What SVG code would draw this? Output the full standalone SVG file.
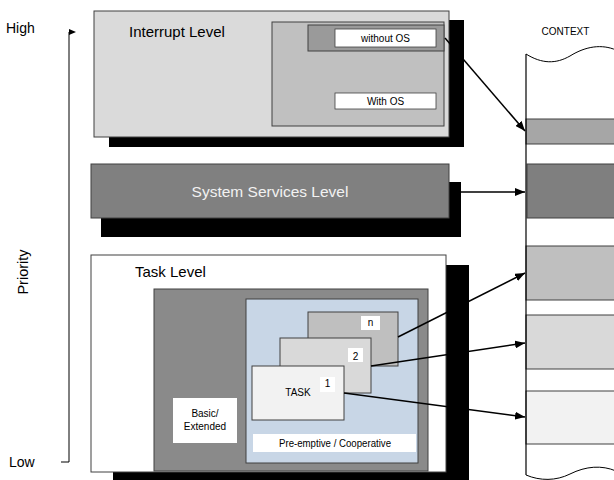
<svg xmlns="http://www.w3.org/2000/svg" width="614" height="480" viewBox="0 0 614 480">
<style>
text{font-family:"Liberation Sans",Arial,sans-serif;fill:#000}
.b{stroke:#404040;stroke-width:1}
.sh{fill:#000}
.wb{fill:#fff;stroke:#404040;stroke-width:0.8}
.c{text-anchor:middle}
.conn{stroke:#000;stroke-width:1.5;fill:none;marker-end:url(#ah)}
.band{stroke:#404040;stroke-width:1}
</style>
<defs>
<marker id="ah" viewBox="0 0 10 8" refX="10" refY="4" markerWidth="10" markerHeight="8" markerUnits="userSpaceOnUse" orient="auto">
<path d="M0,0 L10,4 L0,8 z" fill="#000"/>
</marker>
</defs>
<rect width="614" height="480" fill="#fff"/>

<g id="priority-axis">
<text x="6" y="33" font-size="14">High</text>
<text x="9" y="467" font-size="14">Low</text>
<text transform="translate(28,272) rotate(-90)" font-size="14.5" class="c">Priority</text>
<path d="M69,462 V32" fill="none" stroke="#000" stroke-width="1"/>
<path d="M69,29 L76,32 L69,35 z" fill="#000"/>
<path d="M61,462 H69" stroke="#000" stroke-width="1"/>
</g>

<g id="interrupt-level">
<rect class="sh" x="109" y="20" width="355" height="127"/>
<rect class="b" x="94" y="11" width="355" height="126" fill="#dadada"/>
<text x="129" y="37" font-size="15">Interrupt Level</text>
<rect class="b" x="272" y="22" width="172" height="104" fill="#c0c0c0"/>
<rect class="b" x="308" y="25" width="136" height="26" fill="#9a9a9a"/>
<rect class="wb" x="335" y="29" width="101" height="18"/>
<text x="385.5" y="42" font-size="10" class="c">without OS</text>
<rect class="wb" x="335" y="93" width="101" height="16"/>
<text x="385.5" y="105" font-size="10" class="c">With OS</text>
</g>

<g id="system-services-level">
<rect class="sh" x="101" y="182" width="360" height="55"/>
<rect class="b" x="91" y="164" width="358" height="54" fill="#808080"/>
<text x="270" y="197" font-size="15.5" class="c" style="fill:#f2f2f2">System Services Level</text>
</g>

<g id="task-level">
<rect class="sh" x="113" y="265" width="356" height="220"/>
<rect class="b" x="91" y="255" width="355" height="217" fill="#fff"/>
<text x="135" y="277" font-size="15">Task Level</text>
<rect class="b" x="154" y="289" width="274" height="182" fill="#8a8a8a"/>
<rect x="173" y="398" width="64" height="45" fill="#fff"/>
<text x="205" y="417" font-size="10" class="c">Basic/</text>
<text x="205" y="430" font-size="10" class="c">Extended</text>
<rect class="b" x="246" y="299" width="172" height="164" fill="#c8d6e6"/>
<rect x="253" y="434" width="163" height="18" fill="#fff"/>
<text x="335" y="447" font-size="10" class="c" textLength="112" lengthAdjust="spacingAndGlyphs">Pre-emptive / Cooperative</text>
</g>

<g id="task-n">
<rect class="b" x="308" y="312" width="90" height="54" fill="#bfbfbf"/>
<rect x="361" y="316" width="19" height="14" fill="#fff"/>
<text x="370.5" y="326" font-size="10" class="c">n</text>
</g>
<g id="task-2">
<rect class="b" x="280" y="338" width="91" height="55" fill="#d9d9d9"/>
<rect x="348" y="348" width="15" height="14" fill="#fff"/>
<text x="355.5" y="360" font-size="10" class="c">2</text>
</g>
<g id="task-1">
<rect class="b" x="252" y="366" width="92" height="54" fill="#f2f2f2"/>
<rect x="320" y="377" width="15" height="15" fill="#fff"/>
<text x="327.5" y="387" font-size="10" class="c">1</text>
<text x="298" y="396" font-size="10" class="c">TASK</text>
</g>

<g id="context">
<text x="565.5" y="35" font-size="10" class="c">CONTEXT</text>
<rect class="band" x="526" y="119" width="95" height="25" fill="#a6a6a6"/>
<rect class="band" x="527" y="164" width="95" height="54" fill="#7f7f7f"/>
<rect class="band" x="526" y="246" width="95" height="54" fill="#bfbfbf"/>
<rect class="band" x="526" y="315" width="95" height="54" fill="#d9d9d9"/>
<rect class="band" x="526" y="391" width="95" height="53" fill="#f2f2f2"/>
<path d="M526,54 C542,64 556,64 570,56 C586,46 602,44 616,50" fill="none" stroke="#000" stroke-width="1"/>
<path d="M526,475 C540,481 556,481 570,474 C586,466 602,465 616,471" fill="none" stroke="#000" stroke-width="1"/>
<path d="M526,54 V475" stroke="#000" stroke-width="1.2"/>
</g>

<g id="connectors">
<path class="conn" d="M445,38 L525,131"/>
<path class="conn" d="M461,192 L525,192"/>
<path class="conn" d="M398,337 L525,273"/>
<path class="conn" d="M371,366 L525,343"/>
<path class="conn" d="M344,393 L525,417"/>
</g>
</svg>
